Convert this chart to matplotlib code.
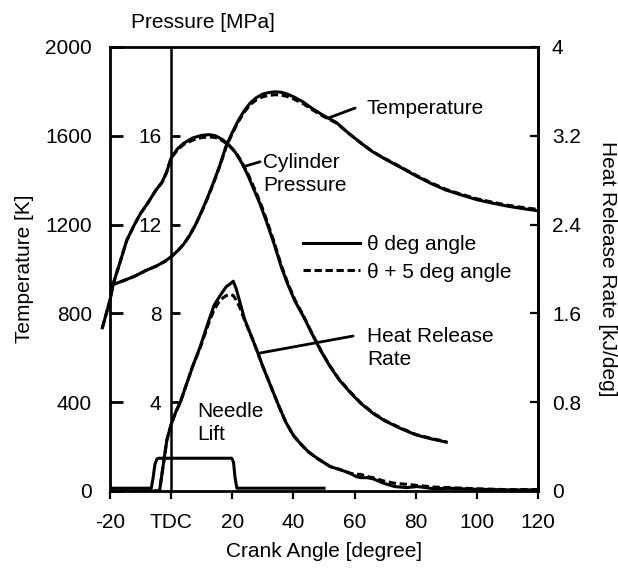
import matplotlib
matplotlib.use('Agg')
import matplotlib.pyplot as plt
import matplotlib.transforms as mtransforms

plt.rcParams['font.family'] = ['Liberation Sans', 'DejaVu Sans']
plt.rcParams['font.size'] = 15

# ---- Temperature [K] ----
temp_deg = [-20, -16, -12, -8, -5, -2, 0, 2, 4, 6, 8, 10, 12, 14, 16, 18, 20, 22,
            24, 26, 28, 30, 32, 34, 36, 38, 40, 43, 46, 50, 54, 58, 62, 66, 70,
            75, 80, 85, 90, 95, 100, 105, 110, 115, 120]
temp_solid = [925, 945, 967, 995, 1012, 1035, 1055, 1080, 1110, 1150, 1200, 1260,
              1325, 1395, 1470, 1555, 1615, 1670, 1715, 1750, 1773, 1788, 1795,
              1798, 1796, 1788, 1776, 1754, 1724, 1690, 1660, 1612, 1568, 1527,
              1495, 1458, 1420, 1385, 1355, 1333, 1312, 1297, 1283, 1272, 1262]
temp_dash = [925, 945, 967, 995, 1012, 1035, 1055, 1080, 1110, 1150, 1200, 1258,
             1322, 1392, 1467, 1550, 1610, 1664, 1708, 1742, 1763, 1776, 1782,
             1785, 1783, 1777, 1766, 1746, 1719, 1686, 1658, 1612, 1568, 1528,
             1497, 1460, 1423, 1388, 1358, 1336, 1316, 1301, 1287, 1277, 1268]

# ---- Cylinder pressure [MPa] ----
press_deg = [-22.5, -20, -18.9, -16.5, -14.5, -12, -10, -7.5, -5, -3, -1.5, 0, 2, 4,
             7, 10, 12.5, 14.5, 16.5, 18.5, 21, 23, 25, 27, 29, 31, 33.5, 36, 38,
             40.5, 43.5, 46, 49, 52, 55, 58.5, 62, 66, 70, 75, 80, 85, 90]
press_solid = [7.35, 8.6, 9.35, 10.4, 11.3, 12.0, 12.5, 13.0, 13.55, 13.9, 14.35,
               15.0, 15.4, 15.65, 15.9, 16.02, 16.05, 16.0, 15.85, 15.65, 15.25,
               14.8, 14.25, 13.6, 12.95, 12.2, 11.2, 10.1, 9.35, 8.55, 7.8, 7.1,
               6.3, 5.6, 5.0, 4.45, 3.95, 3.5, 3.15, 2.82, 2.53, 2.35, 2.2]
press_dash = [7.35, 8.6, 9.35, 10.4, 11.3, 12.0, 12.5, 13.0, 13.55, 13.9, 14.35,
              15.0, 15.35, 15.6, 15.8, 15.92, 15.95, 15.92, 15.8, 15.62, 15.28,
              14.85, 14.32, 13.7, 13.05, 12.3, 11.28, 10.18, 9.42, 8.6, 7.83, 7.12,
              6.32, 5.62, 5.02, 4.47, 3.97, 3.52, 3.17, 2.84, 2.55, 2.37, 2.22]

# ---- Heat release rate [kJ/deg] ----
hrr_deg = [-20, -3.8, -2.5, -1.4, 0, 1.5, 3, 5, 7, 9.5, 12, 14, 16, 18, 19.5, 20.3,
           21.3, 22.5, 24, 26, 28, 30, 32.5, 35, 37.5, 40, 42.5, 45, 48, 52, 55.5,
           58.5, 60.5, 62, 64, 66, 69.5, 73, 77, 80.5, 86, 91, 100, 110, 120]
hrr_solid = [0, 0, 0.25, 0.46, 0.6, 0.71, 0.8, 0.96, 1.12, 1.3, 1.51, 1.67, 1.76,
             1.84, 1.87, 1.89, 1.82, 1.7, 1.55, 1.41, 1.27, 1.12, 0.95, 0.78, 0.62,
             0.5, 0.42, 0.35, 0.29, 0.22, 0.19, 0.16, 0.13, 0.12, 0.12, 0.11,
             0.07, 0.04, 0.03, 0.04, 0.02, 0.024, 0.015, 0.01, 0.01]
hrr_dash = [0, 0, 0.25, 0.46, 0.6, 0.71, 0.8, 0.96, 1.12, 1.29, 1.49, 1.63, 1.72,
            1.76, 1.77, 1.76, 1.72, 1.65, 1.54, 1.41, 1.27, 1.12, 0.95, 0.78, 0.62,
            0.5, 0.42, 0.35, 0.29, 0.22, 0.19, 0.16, 0.15, 0.15, 0.13, 0.12,
            0.09, 0.07, 0.06, 0.05, 0.035, 0.03, 0.02, 0.012, 0.012]

# ---- Needle lift (arbitrary, drawn on HRR scale) ----
needle_deg = [-20, -6.5, -5.9, -5.3, -4.6, -4, 19.8, 20.4, 20.9, 21.5, 50]
needle_lift = [0.025, 0.025, 0.12, 0.24, 0.29, 0.295, 0.295, 0.26, 0.12, 0.025, 0.025]

temp_ticks = [0, 400, 800, 1200, 1600, 2000]
press_ticks = [4, 8, 12, 16]
hrr_ticks = [0, 0.8, 1.6, 2.4, 3.2, 4]
x_ticks = [-20, 0, 20, 40, 60, 80, 100, 120]
x_ticklabels = ['-20', 'TDC', '20', '40', '60', '80', '100', '120']

LW = 2.2
DASH = (0, (2.4, 1.2))

fig = plt.figure(figsize=(6.18, 5.68), dpi=100)
ax = fig.add_axes([0.178, 0.1356, 0.6926, 0.7817])
ax.set_xlim(-20, 120)
ax.set_ylim(0, 2000)

axp = ax.twinx()
axp.set_ylim(0, 20)
axh = ax.twinx()
axh.set_ylim(0, 4)

# curves
l_solid, = ax.plot(temp_deg, temp_solid, color='black', lw=LW)
l_dash, = ax.plot(temp_deg, temp_dash, color='black', lw=LW, ls=DASH)
axp.plot(press_deg, press_dash, color='black', lw=LW, ls=DASH, clip_on=False)
axp.plot(press_deg, press_solid, color='black', lw=LW, clip_on=False)
axh.plot(hrr_deg, hrr_dash, color='black', lw=LW, ls=DASH)
axh.plot(hrr_deg, hrr_solid, color='black', lw=LW)
axh.plot(needle_deg, needle_lift, color='black', lw=LW)

# spines
for s in ax.spines.values():
    s.set_linewidth(2.0)
for a in (axp, axh):
    for s in a.spines.values():
        s.set_visible(False)
axh.spines['right'].set_visible(True)
axh.spines['right'].set_linewidth(2.0)
axp.spines['left'].set_visible(True)
axp.spines['left'].set_position(('data', 0))
axp.spines['left'].set_linewidth(1.8)

# ticks
ax.set_xticks(x_ticks)
ax.set_xticklabels(x_ticklabels)
ax.tick_params(axis='x', direction='out', length=6, width=1.6, pad=10)
ax.set_yticks(temp_ticks)
ax.tick_params(axis='y', direction='in', length=9, width=2.0, pad=13)

axp.set_yticks(press_ticks)
axp.yaxis.set_ticks_position('left')
axp.tick_params(axis='y', left=True, right=False, labelleft=True, labelright=False,
                direction='in', length=6.5, width=2.0, pad=7)

axh.set_yticks(hrr_ticks)
axh.set_yticklabels(['0', '0.8', '1.6', '2.4', '3.2', '4'])
axh.tick_params(axis='y', direction='in', length=6, width=1.6, pad=10)

# axis labels
ax.set_xlabel('Crank Angle [degree]', labelpad=7)
ax.set_ylabel('Temperature [K]', labelpad=8)
axh.set_ylabel('Heat Release Rate [kJ/deg]', rotation=-90, va='bottom', labelpad=12)
trans = mtransforms.blended_transform_factory(ax.transData, ax.transAxes)
ax.text(10.5, 1.056, 'Pressure [MPa]', transform=trans, ha='center', va='center')

# annotations
leader = dict(arrowstyle='-', lw=2.0, color='black', shrinkA=0, shrinkB=0)
ax.annotate('', xy=(51.4, 1680), xytext=(60.2, 1725), arrowprops=leader)
ax.text(64, 1725, 'Temperature', ha='left', va='center')
ax.annotate('', xy=(23.7, 1461), xytext=(29.1, 1483), arrowprops=leader)
ax.text(30.2, 1427, 'Cylinder\nPressure', ha='left', va='center', linespacing=1.25)
ax.annotate('', xy=(28.5, 620), xytext=(59.5, 698), arrowprops=leader)
ax.text(64.1, 643, 'Heat Release\nRate', ha='left', va='center', linespacing=1.25)
ax.text(8.4, 305, 'Needle\nLift', ha='left', va='center', linespacing=1.25)

ax.legend([l_solid, l_dash], ['\u03b8 deg angle', '\u03b8 + 5 deg angle'],
          loc='upper left', bbox_to_anchor=(0.451, 0.576), frameon=False,
          borderpad=0, borderaxespad=0, handlelength=2.75, handletextpad=0.3,
          labelspacing=0.4)

fig.savefig('out.png', dpi=100, facecolor='white')
